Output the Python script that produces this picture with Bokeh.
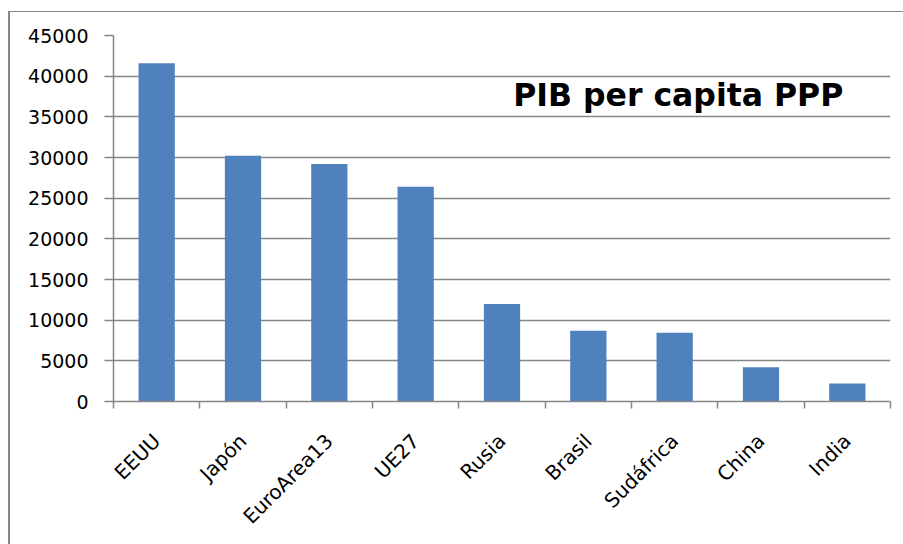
import math
from bokeh.plotting import figure
from bokeh.layouts import row, column
from bokeh.models import FixedTicker, Range1d, Label, Spacer
from bokeh.embed import file_html
from bokeh.resources import INLINE

countries = ["EEUU", "Japón", "EuroArea13", "UE27", "Rusia", "Brasil", "Sudáfrica", "China", "India"]
gdp_per_capita = [41600, 30200, 29200, 26400, 12000, 8700, 8450, 4200, 2200]
y_ticks = [0, 5000, 10000, 15000, 20000, 25000, 30000, 35000, 40000, 45000]
chart_title = "PIB per capita PPP"

n = len(countries)
centers = [i + 0.5 for i in range(n)]
boundaries = list(range(n + 1))

GRAY = "#868686"
BLUE = "#4F81BD"
FONT = "DejaVu Sans"

W, H = 885, 528
p = figure(width=W, height=H, output_backend="svg", toolbar_location=None,
           x_range=Range1d(0, n), y_range=Range1d(0, y_ticks[-1]),
           min_border_left=103, min_border_right=5, min_border_top=23, min_border_bottom=137)

p.vbar(x=centers, top=gdp_per_capita, width=0.42, fill_color=BLUE, line_color=None)

# x axis: labels at category centres, ticks at category boundaries
xa = p.xaxis[0]
xa.ticker = FixedTicker(ticks=centers, minor_ticks=boundaries)
xa.major_label_overrides = {c: name for c, name in zip(centers, countries)}
xa.major_tick_line_color = None
xa.major_tick_out = 0
xa.major_tick_in = 0
xa.minor_tick_line_color = GRAY
xa.minor_tick_line_width = 1.5
xa.minor_tick_out = 7
xa.minor_tick_in = 0
xa.axis_line_color = GRAY
xa.axis_line_width = 1.5
xa.major_label_orientation = math.pi / 4
xa.major_label_text_font = FONT
xa.major_label_text_font_size = "20px"
xa.major_label_text_color = "black"
xa.major_label_standoff = 29

ya = p.yaxis[0]
ya.ticker = FixedTicker(ticks=y_ticks)
ya.major_tick_line_color = GRAY
ya.major_tick_line_width = 1.5
ya.major_tick_out = 9
ya.major_tick_in = 0
ya.minor_tick_line_color = None
ya.axis_line_color = GRAY
ya.axis_line_width = 1.5
ya.major_label_text_font = FONT
ya.major_label_text_font_size = "19px"
ya.major_label_text_color = "black"
ya.major_label_standoff = 16

p.xgrid.visible = False
p.ygrid.ticker = FixedTicker(ticks=y_ticks)
p.ygrid.grid_line_color = GRAY
p.ygrid.grid_line_width = 1.5
p.outline_line_color = None

p.add_layout(Label(x=4.63, y=37700, text=chart_title, text_font=FONT,
                   text_font_style="bold", text_font_size="31.5px",
                   text_baseline="alphabetic", text_color="black"))

# chart-area border: left and top edges (the right and bottom ones lie outside the view)
left_border = column(Spacer(width=2, height=11),
                     Spacer(width=2, height=533, styles={"background-color": GRAY}),
                     spacing=0)
main = column(Spacer(width=W + 8, height=11),
              Spacer(width=W + 8, height=1, styles={"background-color": GRAY}),
              p, spacing=0)
layout = row(Spacer(width=8, height=544), left_border, main, spacing=0)

open("out.html", "w").write(file_html(layout, INLINE))
